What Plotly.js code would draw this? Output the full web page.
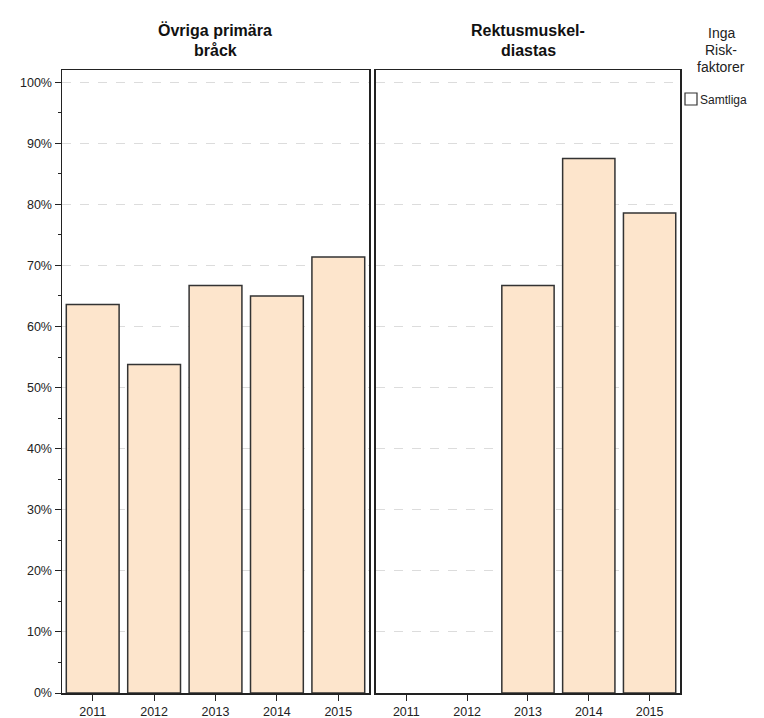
<!DOCTYPE html>
<html><head><meta charset="utf-8">
<script src="https://cdn.plot.ly/plotly-3.0.1.min.js"></script>
<style>html,body{margin:0;padding:0;background:#fff}</style>
</head><body><div id="chart" style="width:764px;height:718px"></div>
<script>
var years = ['2011','2012','2013','2014','2015'];
var ovrigaPrimaraBrack = [63.6, 53.8, 66.7, 65.0, 71.4];
var rektusmuskelDiastas = [null, null, 66.7, 87.5, 78.6];
var panelTitleLines = [['Övriga primära', 'bråck'], ['Rektusmuskel-', 'diastas']];
var legendTitleLines = ['Inga', 'Risk-', 'faktorer'];
var legendItem = 'Samtliga';

var FAM = 'Liberation Sans, Arial, sans-serif';
var barStyle = {color:'#FDE5CC', line:{color:'#333333', width:1.5}};
var traces = [
  {type:'bar', x:years, y:ovrigaPrimaraBrack, xaxis:'x', yaxis:'y', marker:barStyle, showlegend:false, hoverinfo:'skip'},
  {type:'bar', x:years, y:rektusmuskelDiastas, xaxis:'x2', yaxis:'y2', marker:barStyle, showlegend:false, hoverinfo:'skip'}
];
var fnt = {family:FAM, size:12.5, color:'#222'};
var xax = {type:'category', categoryorder:'array', categoryarray:years, ticks:'outside', ticklen:6, tickcolor:'#222',
  showline:true, mirror:true, linecolor:'#222', linewidth:1.5, showgrid:false, tickfont:fnt, fixedrange:true};
var yax = {range:[0,102], dtick:10, ticksuffix:'%', ticks:'outside', ticklen:6, tickcolor:'#222',
  minor:{dtick:5, ticks:'outside', ticklen:3, tickcolor:'#222', showgrid:false},
  showline:true, mirror:true, linecolor:'#222', linewidth:1.5, showgrid:true, gridcolor:'#dcdcdc', griddash:'dash', gridwidth:1,
  zeroline:false, tickfont:fnt, fixedrange:true};

function py(p){ return (693 - p) / 623; }
function px(p){ return (p - 62) / 618; }
var ann = [];
var titleX = [px(215), px(528)];
panelTitleLines.forEach(function(lines, i){
  lines.forEach(function(t, j){
    ann.push({text:'<b>'+t+'</b>', xref:'paper', yref:'paper', x:titleX[i], y:py(30 + j*21), xanchor:'center', yanchor:'middle',
      showarrow:false, font:{family:FAM, size:16, color:'#111'}});
  });
});
legendTitleLines.forEach(function(t, j){
  ann.push({text:t, xref:'paper', yref:'paper', x:px(721), y:py(33 + j*17), xanchor:'center', yanchor:'middle',
    showarrow:false, font:{family:FAM, size:14, color:'#222'}});
});
ann.push({text:legendItem, xref:'paper', yref:'paper', x:px(698), y:py(99.5), xanchor:'left', yanchor:'middle',
  showarrow:false, font:{family:FAM, size:12, color:'#222'}});

var layout = {
  width:764, height:718, margin:{l:62, r:84, t:70, b:25},
  paper_bgcolor:'#fff', plot_bgcolor:'#fff', bargap:0.14, showlegend:false,
  xaxis: Object.assign({}, xax, {domain:[0, 0.4968], anchor:'y'}),
  xaxis2: Object.assign({}, xax, {domain:[0.508, 1], anchor:'y2'}),
  yaxis: Object.assign({}, yax, {anchor:'x'}),
  yaxis2: Object.assign({}, yax, {anchor:'x2', matches:'y', showticklabels:false, ticks:'', minor:{ticks:'', showgrid:false}}),
  annotations: ann,
  shapes:[
    {type:'rect', xref:'paper', yref:'paper', x0:px(685), x1:px(697), y0:py(105), y1:py(93), line:{color:'#333', width:1.2}, fillcolor:'#fff'}
  ]
};
Plotly.newPlot('chart', traces, layout, {staticPlot:true, displayModeBar:false});
</script></body></html>
